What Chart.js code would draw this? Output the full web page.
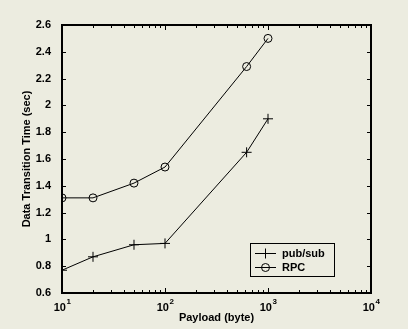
<!DOCTYPE html>
<html>
<head>
<meta charset="utf-8">
<script src="https://cdn.jsdelivr.net/npm/chart.js@4"></script>
<style>
  html, body { margin: 0; padding: 0; background: #ecece0; }
  #wrap { width: 408px; height: 329px; }
</style>
</head>
<body>
<div id="wrap"><canvas id="chart" width="408" height="329"></canvas></div>
<script>
// values
var payload = [10, 20, 50, 100, 620, 1000];
var pubsub = [0.77, 0.87, 0.96, 0.97, 1.65, 1.90];
var rpc = [1.31, 1.31, 1.42, 1.54, 2.29, 2.50];
var yTicks = [0.6, 0.8, 1, 1.2, 1.4, 1.6, 1.8, 2, 2.2, 2.4, 2.6];
var xTicks = [10, 100, 1000, 10000];

function pts(ys) {
  return payload.map(function (p, i) { return { x: p, y: ys[i] }; });
}

var family = '"Liberation Sans", Arial, sans-serif';
var font = { family: family, size: 11, weight: 'bold' };

// inward ticks, frame, x labels with raised exponent, legend box
var framePlugin = {
  id: 'frame',
  afterDatasetsDraw: function (chart) {
    var c = chart.ctx, a = chart.chartArea;
    var xs = chart.scales.x, ys = chart.scales.y;
    c.save();
    c.strokeStyle = '#000';
    c.lineWidth = 1;
    c.beginPath();
    for (var d = 10; d < 10000; d *= 10) {
      for (var m = 1; m <= 10; m++) {
        var px = Math.round(xs.getPixelForValue(d * m)) + 0.5;
        var len = (m === 1 || m === 10) ? 5 : 3;
        c.moveTo(px, a.bottom); c.lineTo(px, a.bottom - len);
        c.moveTo(px, a.top); c.lineTo(px, a.top + len);
      }
    }
    yTicks.forEach(function (t) {
      var py = Math.round(ys.getPixelForValue(t)) + 0.5;
      c.moveTo(a.left, py); c.lineTo(a.left + 4, py);
      c.moveTo(a.right, py); c.lineTo(a.right - 4, py);
    });
    c.stroke();
    c.lineWidth = 2;
    c.strokeRect(a.left, a.top, a.right - a.left, a.bottom - a.top);

    // x tick labels: 10 with superscript exponent
    c.fillStyle = '#000';
    c.textBaseline = 'alphabetic';
    xTicks.forEach(function (v) {
      var px = xs.getPixelForValue(v);
      var exp = String(Math.round(Math.log10(v)));
      c.font = 'bold 11px ' + family;
      var w1 = c.measureText('10').width;
      c.font = 'bold 8px ' + family;
      var w2 = c.measureText(exp).width;
      var x0 = px - (w1 + w2) / 2;
      c.font = 'bold 11px ' + family;
      c.textAlign = 'left';
      c.fillText('10', x0, a.bottom + 18);
      c.font = 'bold 8px ' + family;
      c.fillText(exp, x0 + w1 + 0.5, a.bottom + 11);
    });

    // legend
    var lx = 250, ly = 243, lw = 84, lh = 33;
    c.fillStyle = '#ecece0';
    c.fillRect(lx, ly, lw, lh);
    c.lineWidth = 1;
    c.strokeStyle = '#000';
    c.strokeRect(lx + 0.5, ly + 0.5, lw, lh);
    c.textBaseline = 'middle';
    chart.data.datasets.forEach(function (ds, i) {
      var yy = ly + 10 + i * 14;
      c.strokeStyle = '#000';
      c.beginPath();
      c.moveTo(lx + 5, yy + 0.5); c.lineTo(lx + 26, yy + 0.5);
      c.stroke();
      c.fillStyle = 'rgba(0,0,0,0)';
      Chart.helpers.drawPoint(c, {
        pointStyle: ds.pointStyle, radius: ds.pointRadius, borderWidth: 1
      }, lx + 15.5, yy + 0.5);
      c.fillStyle = '#000';
      c.font = 'bold 11px ' + family;
      c.textAlign = 'left';
      c.fillText(ds.label, lx + 32, yy + 1);
    });
    c.restore();
  }
};

var ctx = document.getElementById('chart').getContext('2d');
var chart = new Chart(ctx, {
  type: 'line',
  data: {
    datasets: [
      {
        label: 'pub/sub',
        data: pts(pubsub),
        borderColor: '#000',
        borderWidth: 1,
        pointStyle: 'cross',
        pointRadius: 5,
        pointBorderColor: '#000',
        pointBorderWidth: 1,
        tension: 0
      },
      {
        label: 'RPC',
        data: pts(rpc),
        borderColor: '#000',
        borderWidth: 1,
        pointStyle: 'circle',
        pointRadius: 4,
        pointBorderColor: '#000',
        pointBackgroundColor: 'rgba(0,0,0,0)',
        pointBorderWidth: 1,
        tension: 0
      }
    ]
  },
  options: {
    responsive: false,
    animation: false,
    layout: { padding: { top: 25, right: 37, left: 0, bottom: 0 } },
    plugins: { legend: { display: false }, tooltip: { enabled: false } },
    scales: {
      x: {
        type: 'logarithmic',
        min: 10,
        max: 10000,
        afterFit: function (s) { s.height = 36; },
        grid: { display: false },
        border: { display: false },
        ticks: { display: false },
        title: {
          display: true,
          text: 'Payload (byte)',
          color: '#000',
          font: font,
          padding: { top: 0, bottom: 4 }
        }
      },
      y: {
        min: 0.6,
        max: 2.6,
        afterFit: function (s) { s.width = 62; },
        afterBuildTicks: function (s) {
          s.ticks = yTicks.map(function (t) { return { value: t }; });
        },
        grid: { display: false },
        border: { display: false },
        ticks: {
          padding: 3,
          color: '#000',
          font: font,
          callback: function (v) { return String(Number(v.toFixed(1))); }
        },
        title: {
          display: true,
          text: 'Data Transition Time (sec)',
          color: '#000',
          font: font,
          padding: { top: 20, bottom: 0 }
        }
      }
    }
  },
  plugins: [framePlugin]
});
</script>
</body>
</html>
